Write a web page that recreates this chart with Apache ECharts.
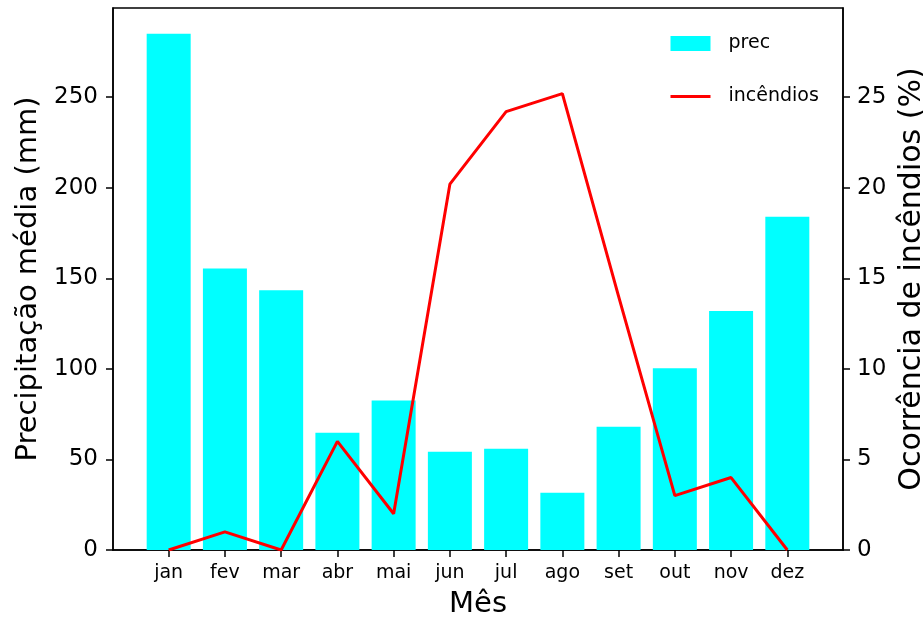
<!DOCTYPE html>
<html>
<head>
<meta charset="utf-8">
<script src="https://cdn.jsdelivr.net/npm/echarts@6/dist/echarts.min.js"></script>
<style>
html,body{margin:0;padding:0;background:#fff;}
#chart{width:923px;height:617px;}
</style>
</head>
<body>
<div id="chart"></div>
<script>
var months = ['jan','fev','mar','abr','mai','jun','jul','ago','set','out','nov','dez'];
var precValues = [285.0, 155.4, 143.4, 64.7, 82.5, 54.2, 55.9, 31.6, 68.0, 100.4, 132.0, 184.0];
var fireValues = [0, 1, 0, 6, 2, 20.2, 24.2, 25.2, 14, 3, 4, 0];
var leftTicks = [0, 50, 100, 150, 200, 250];
var rightTicks = [0, 5, 10, 15, 20, 25];
var monthIdx = months.map(function (m, i) { return i; });

var FONT = 'DejaVu Sans';
var chart = echarts.init(document.getElementById('chart'), null, {renderer: 'canvas'});

var option = {
  animation: false,
  backgroundColor: '#ffffff',
  textStyle: {fontFamily: FONT, color: '#000'},
  grid: {
    left: 113, right: 80, top: 8, bottom: 67,
    containLabel: false,
    outerBoundsMode: 'none',
    show: true, borderColor: '#000', borderWidth: 1.5, backgroundColor: 'transparent'
  },
  legend: {
    orient: 'vertical',
    left: 669, top: 34,
    padding: 0,
    itemWidth: 40, itemHeight: 15,
    itemGap: 34,
    textStyle: {fontFamily: FONT, fontSize: 19, color: '#000', padding: [0, 0, 0, 13]},
    data: [
      {name: 'prec', icon: 'rect'},
      {name: 'incêndios', itemStyle: {opacity: 0}, lineStyle: {width: 3, color: '#ff0000'}}
    ]
  },
  xAxis: {
    type: 'value',
    min: -0.99, max: 11.99,
    name: 'Mês', nameLocation: 'middle', nameGap: 40,
    nameTextStyle: {fontFamily: FONT, fontSize: 29, color: '#000'},
    axisLine: {show: true, onZero: false, lineStyle: {color: '#000', width: 1.5}},
    axisTick: {show: true, length: 7, lineStyle: {color: '#000', width: 1.5}, customValues: monthIdx},
    axisLabel: {fontFamily: FONT, fontSize: 19, color: '#000', margin: 14, customValues: monthIdx,
      formatter: function (v) { return months[Math.round(v)]; }},
    splitLine: {show: false}
  },
  yAxis: [
    {
      type: 'value', min: 0, max: 299.25, position: 'left',
      name: 'Precipitação média (mm)', nameLocation: 'middle', nameRotate: 90, nameGap: 68,
      nameTextStyle: {fontFamily: FONT, fontSize: 29, color: '#000'},
      axisLine: {show: true, onZero: false, lineStyle: {color: '#000', width: 1.5}},
      axisTick: {show: true, length: 7, lineStyle: {color: '#000', width: 1.5}, customValues: leftTicks},
      axisLabel: {fontFamily: FONT, fontSize: 23, color: '#000', margin: 15, customValues: leftTicks},
      splitLine: {show: false}
    },
    {
      type: 'value', min: 0, max: 29.925, position: 'right',
      name: 'Ocorrência de incêndios (%)', nameLocation: 'middle', nameRotate: 90, nameGap: 50,
      nameTextStyle: {fontFamily: FONT, fontSize: 30, color: '#000'},
      axisLine: {show: true, onZero: false, lineStyle: {color: '#000', width: 1.5}},
      axisTick: {show: true, length: 7, lineStyle: {color: '#000', width: 1.5}, customValues: rightTicks},
      axisLabel: {fontFamily: FONT, fontSize: 23, color: '#000', margin: 14, customValues: rightTicks},
      splitLine: {show: false}
    }
  ],
  series: [
    {
      name: 'prec', type: 'bar', xAxisIndex: 0, yAxisIndex: 0,
      barWidth: 44,
      itemStyle: {color: '#00ffff'},
      data: precValues.map(function (v, i) { return [i, v]; }),
      z: 2
    },
    {
      name: 'incêndios', type: 'line', xAxisIndex: 0, yAxisIndex: 1,
      symbol: 'none', showSymbol: false,
      lineStyle: {color: '#ff0000', width: 3},
      itemStyle: {color: '#ff0000'},
      data: fireValues.map(function (v, i) { return [i, v]; }),
      z: 3
    }
  ]
};
chart.setOption(option);
</script>
</body>
</html>
